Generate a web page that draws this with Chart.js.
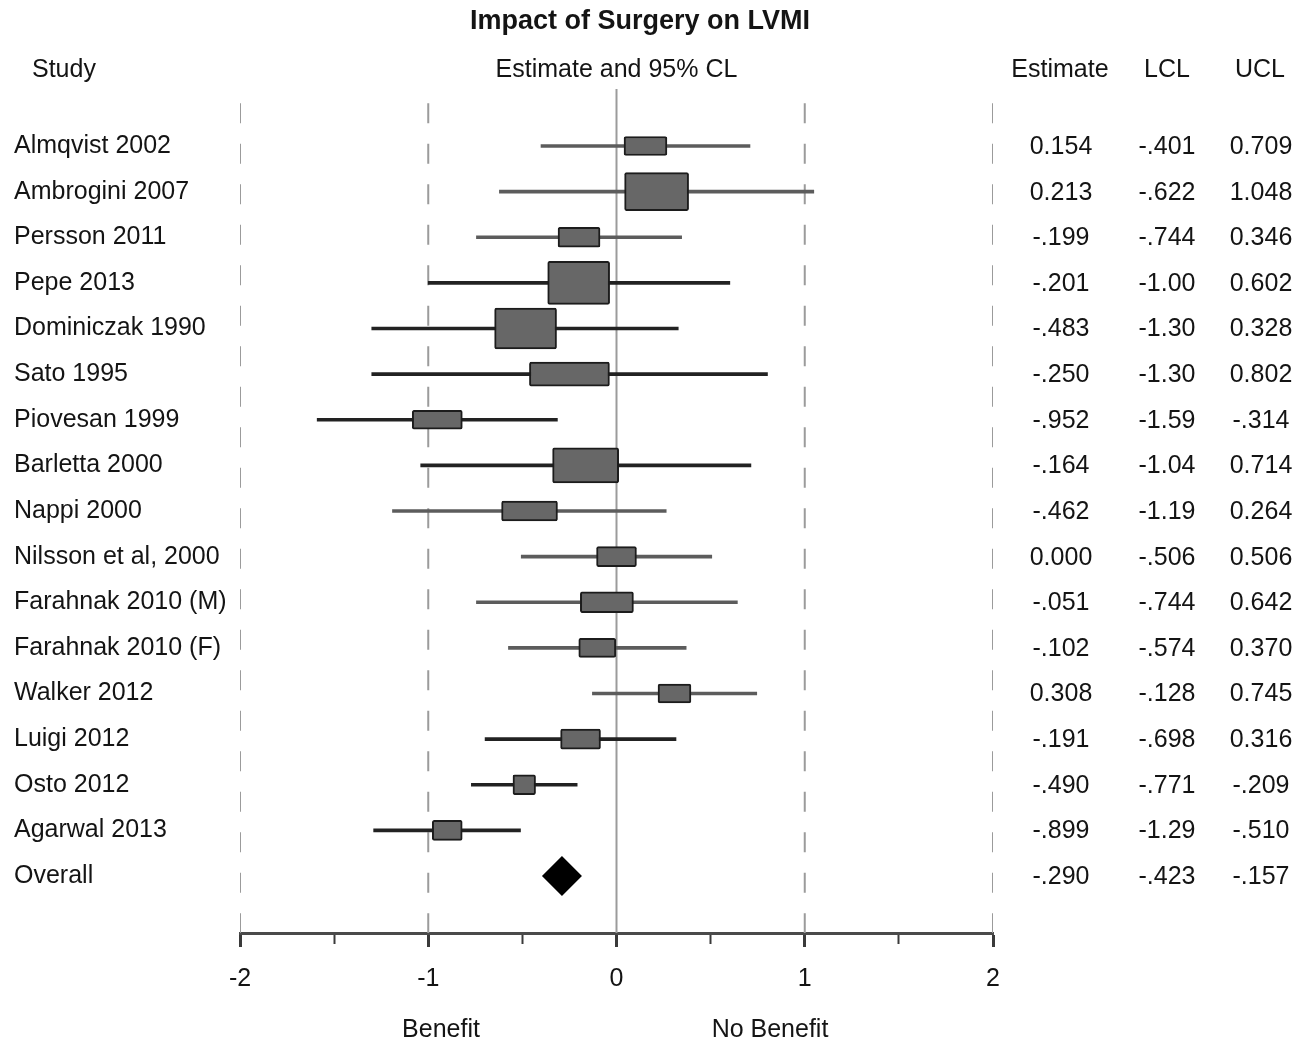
<!DOCTYPE html>
<html>
<head>
<meta charset="utf-8">
<title>Impact of Surgery on LVMI</title>
<script src="https://cdn.jsdelivr.net/npm/chart.js@4.4.0/dist/chart.umd.min.js"></script>
<style>
  html, body { margin: 0; padding: 0; background: #fff; }
  #wrap { width: 1294px; height: 1044px; }
</style>
</head>
<body>
<div id="wrap"><canvas id="forest"></canvas></div>
<script>
const studies = [
    'Almqvist 2002', 'Ambrogini 2007', 'Persson 2011', 'Pepe 2013', 'Dominiczak 1990',
    'Sato 1995', 'Piovesan 1999', 'Barletta 2000', 'Nappi 2000', 'Nilsson et al, 2000',
    'Farahnak 2010 (M)', 'Farahnak 2010 (F)', 'Walker 2012', 'Luigi 2012', 'Osto 2012', 'Agarwal 2013'
];
const estimates = [0.154, 0.213, -0.199, -0.201, -0.483, -0.250, -0.952, -0.164, -0.462, 0.000, -0.051, -0.102, 0.308, -0.191, -0.490, -0.899];
const lcl = [-0.401, -0.622, -0.744, -1.00, -1.30, -1.30, -1.59, -1.04, -1.19, -0.506, -0.744, -0.574, -0.128, -0.698, -0.771, -1.29];
const ucl = [0.709, 1.048, 0.346, 0.602, 0.328, 0.802, -0.314, 0.714, 0.264, 0.506, 0.642, 0.370, 0.745, 0.316, -0.209, -0.510];
// study weight boxes: width in effect units, height in px
const boxW = [0.228, 0.340, 0.223, 0.329, 0.329, 0.425, 0.266, 0.351, 0.297, 0.212, 0.282, 0.197, 0.175, 0.212, 0.120, 0.159];
const boxH = [19, 38, 20, 43, 41, 24, 19, 35, 20, 20, 21, 19, 19, 20, 20, 20];

const overallEst = -0.290;

// printed table on the right (as in the figure)
const estText = ['0.154', '0.213', '-.199', '-.201', '-.483', '-.250', '-.952', '-.164', '-.462', '0.000', '-.051', '-.102', '0.308', '-.191', '-.490', '-.899', '-.290'];
const lclText = ['-.401', '-.622', '-.744', '-1.00', '-1.30', '-1.30', '-1.59', '-1.04', '-1.19', '-.506', '-.744', '-.574', '-.128', '-.698', '-.771', '-1.29', '-.423'];
const uclText = ['0.709', '1.048', '0.346', '0.602', '0.328', '0.802', '-.314', '0.714', '0.264', '0.506', '0.642', '0.370', '0.745', '0.316', '-.209', '-.510', '-.157'];

const xTicks = [-2, -1, 0, 1, 2];
const refLines = [-2, -1, 1, 2];
const rowLabels = [...studies, 'Overall'];

const FONT = "'Liberation Sans', Arial, Helvetica, sans-serif";
const TEXT = '#141414';
const darkCI = new Set([3, 4, 5, 6, 7, 13, 14, 15]);

const Y_MIN = -1.25, Y_MAX = 17.25, DASH_TOP = -0.94;

const isMajor = ctx => !!ctx.tick && Number.isInteger(ctx.tick.value);

const datasets = [];

// vertical reference lines
refLines.forEach(v => {
    datasets.push({
        type: 'line',
        data: [{ x: v, y: DASH_TOP }, { x: v, y: Y_MAX }],
        borderColor: '#9b9b9b',
        borderWidth: 2,
        borderDash: [20, 20.5],
        pointRadius: 0,
        order: 20
    });
});
datasets.push({
    type: 'line',
    data: [{ x: 0, y: Y_MIN }, { x: 0, y: Y_MAX }],
    borderColor: '#9b9b9b',
    borderWidth: 2,
    pointRadius: 0,
    order: 20
});

// confidence intervals
datasets.push({
    type: 'bar',
    indexAxis: 'y',
    grouped: false,
    data: studies.map((s, i) => ({ y: i, x: [lcl[i], ucl[i]] })),
    backgroundColor: ctx => darkCI.has(ctx.dataIndex) ? '#222' : '#5c5c5c',
    barThickness: 3,
    maxBarThickness: 3,
    borderWidth: 0,
    order: 10
});

// weight boxes
studies.forEach((s, i) => {
    datasets.push({
        type: 'bar',
        indexAxis: 'y',
        grouped: false,
        data: [{ y: i, x: [estimates[i] - boxW[i] / 2, estimates[i] + boxW[i] / 2] }],
        backgroundColor: '#676767',
        borderColor: '#1c1c1c',
        borderWidth: 2,
        borderSkipped: false,
        borderRadius: 2,
        barThickness: boxH[i],
        maxBarThickness: boxH[i],
        order: 5
    });
});

// overall diamond
datasets.push({
    type: 'scatter',
    data: [{ x: overallEst, y: studies.length }],
    pointStyle: 'rectRot',
    pointRadius: 20,
    pointHoverRadius: 20,
    backgroundColor: '#000',
    borderWidth: 0,
    order: 1
});

const textPlugin = {
    id: 'forestText',
    afterDraw(chart) {
        const { ctx, scales: { x, y } } = chart;
        ctx.save();
        ctx.fillStyle = TEXT;
        ctx.textBaseline = 'middle';

        ctx.font = `bold 27px ${FONT}`;
        ctx.textAlign = 'center';
        ctx.fillText('Impact of Surgery on LVMI', 640, 22);

        ctx.font = `25px ${FONT}`;
        ctx.textAlign = 'left';
        ctx.fillText('Study', 32, 70);
        ctx.textAlign = 'center';
        ctx.fillText('Estimate and 95% CL', x.getPixelForValue(0), 70);
        ctx.fillText('Estimate', 1060, 70);
        ctx.fillText('LCL', 1167, 70);
        ctx.fillText('UCL', 1260, 70);

        rowLabels.forEach((r, i) => {
            const py = y.getPixelForValue(i) + 1;
            ctx.fillText(estText[i], 1061, py);
            ctx.fillText(lclText[i], 1167, py);
            ctx.fillText(uclText[i], 1261, py);
        });

        ctx.fillText('Benefit', 441, 1030);
        ctx.fillText('No Benefit', 770, 1030);
        ctx.restore();
    }
};

new Chart(document.getElementById('forest'), {
    type: 'bar',
    data: { datasets },
    plugins: [textPlugin],
    options: {
        responsive: true,
        maintainAspectRatio: false,
        animation: false,
        layout: { padding: { left: 14, right: 301, top: 89, bottom: 0 } },
        plugins: {
            legend: { display: false },
            tooltip: { enabled: false },
            title: { display: false }
        },
        scales: {
            x: {
                type: 'linear',
                position: 'bottom',
                offset: false,
                min: -2,
                max: 2,
                afterFit: axis => { axis.height = 111; },
                ticks: {
                    stepSize: 0.5,
                    autoSkip: false,
                    maxRotation: 0,
                    padding: 17,
                    color: TEXT,
                    font: { family: FONT, size: 25 },
                    callback: v => xTicks.includes(v) ? String(v) : ''
                },
                grid: {
                    offset: false,
                    drawOnChartArea: false,
                    drawTicks: true,
                    tickLength: 14,
                    tickColor: '#3a3a3a',
                    tickWidth: ctx => isMajor(ctx) ? 3 : 2,
                    tickBorderDash: ctx => isMajor(ctx) ? [] : [9, 60]
                },
                border: { display: true, color: '#4a4a4a', width: 3 }
            },
            y: {
                type: 'linear',
                position: 'left',
                offset: false,
                reverse: true,
                min: Y_MIN,
                max: Y_MAX,
                afterFit: axis => { axis.width = 226; },
                afterBuildTicks: axis => { axis.ticks = rowLabels.map((r, i) => ({ value: i })); },
                ticks: {
                    autoSkip: false,
                    crossAlign: 'far',
                    color: TEXT,
                    font: { family: FONT, size: 25 },
                    callback: v => rowLabels[v] ?? ''
                },
                grid: { display: false, offset: false },
                border: { display: false }
            }
        }
    }
});
</script>
</body>
</html>
